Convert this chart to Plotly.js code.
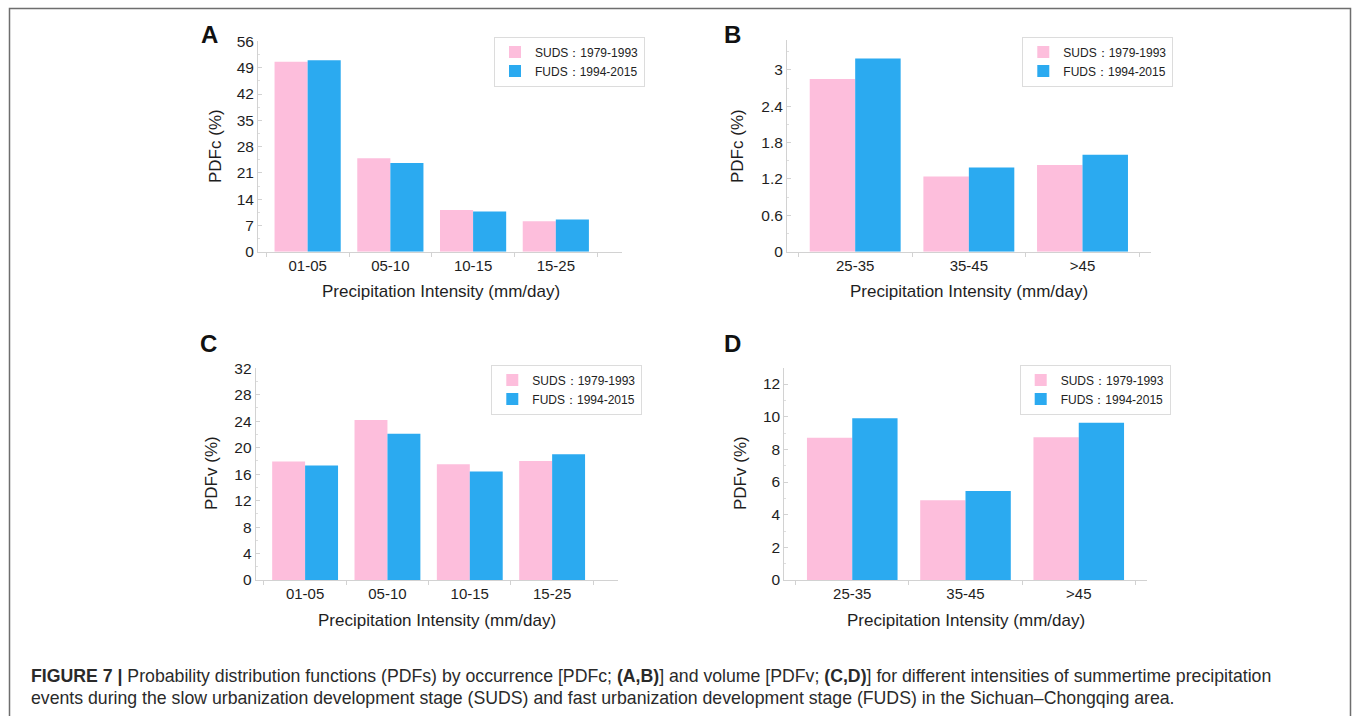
<!DOCTYPE html>
<html>
<head>
<meta charset="utf-8">
<script src="https://cdn.plot.ly/plotly-3.0.1.min.js"></script>
<style>html,body{margin:0;padding:0;background:#fff;}#chart{width:1355px;height:716px;}</style>
</head>
<body>
<div id="chart"></div>
<script>
// ---- data ----
const lowCats = ["01-05", "05-10", "10-15", "15-25"];
const highCats = ["25-35", "35-45", ">45"];
const sudsName = "SUDS：1979-1993";
const fudsName = "FUDS：1994-2015";

const pdfcLowSUDS = [50.6, 24.9, 11.1, 8.1];
const pdfcLowFUDS = [51.0, 23.6, 10.7, 8.6];
const pdfcHighSUDS = [2.85, 1.24, 1.43];
const pdfcHighFUDS = [3.19, 1.39, 1.60];
const pdfvLowSUDS = [17.9, 24.2, 17.5, 18.0];
const pdfvLowFUDS = [17.3, 22.1, 16.4, 19.0];
const pdfvHighSUDS = [8.71, 4.88, 8.74];
const pdfvHighFUDS = [9.90, 5.45, 9.63];

const ticksA = [0, 7, 14, 21, 28, 35, 42, 49, 56];
const ticksB = [0, 0.6, 1.2, 1.8, 2.4, 3.0];
const ticksBText = ["0", "0.6", "1.2", "1.8", "2.4", "3"];
const ticksC = [0, 4, 8, 12, 16, 20, 24, 28, 32];
const ticksD = [0, 2, 4, 6, 8, 10, 12];

const panelLetters = ["A", "B", "C", "D"];
const yTitles = ["PDFc (%)", "PDFc (%)", "PDFv (%)", "PDFv (%)"];
const xTitle = "Precipitation Intensity (mm/day)";
const captionLine1 = "<b>FIGURE 7 |</b> Probability distribution functions (PDFs) by occurrence [PDFc; <b>(A,B)</b>] and volume [PDFv; <b>(C,D)</b>] for different intensities of summertime precipitation";
const captionLine2 = "events during the slow urbanization development stage (SUDS) and fast urbanization development stage (FUDS) in the Sichuan–Chongqing area.";

// ---- styles ----
const PINK = "#FDBEDC";
const BLUE = "#2BAAF0";
const FONT = "Liberation Sans, Arial, Helvetica, sans-serif";
const W = 1355, H = 716;
const px = v => v / W;
const py = v => 1 - v / H;

function bars(x, y, name, color, ax, leg) {
  return {type: "bar", x: x, y: y, name: name, marker: {color: color, line: {width: 0}},
    xaxis: "x" + ax, yaxis: "y" + ax, legend: leg, hoverinfo: "x+y"};
}
const traces = [
  bars(lowCats, pdfcLowSUDS, sudsName, PINK, "", "legend"),
  bars(lowCats, pdfcLowFUDS, fudsName, BLUE, "", "legend"),
  bars(highCats, pdfcHighSUDS, sudsName, PINK, "2", "legend2"),
  bars(highCats, pdfcHighFUDS, fudsName, BLUE, "2", "legend2"),
  bars(lowCats, pdfvLowSUDS, sudsName, PINK, "3", "legend3"),
  bars(lowCats, pdfvLowFUDS, fudsName, BLUE, "3", "legend3"),
  bars(highCats, pdfvHighSUDS, sudsName, PINK, "4", "legend4"),
  bars(highCats, pdfvHighFUDS, fudsName, BLUE, "4", "legend4")
];

function xax(domain, range, anchor) {
  return {domain: domain, range: range, type: "category", anchor: anchor,
    showline: true, linecolor: "#d2d2d2", linewidth: 1, mirror: false,
    ticks: "outside", tickson: "boundaries", ticklen: 4, tickcolor: "#d2d2d2",
    tickfont: {family: FONT, size: 15, color: "#1e1e1e"}, showgrid: false, zeroline: false, fixedrange: true};
}
function yax(domain, range, vals, text, minorStep, anchor) {
  const o = {domain: domain, range: range, anchor: anchor,
    showline: true, linecolor: "#d2d2d2", linewidth: 1,
    ticks: "inside", ticklen: 4, tickcolor: "#d2d2d2",
    tickmode: "array", tickvals: vals,
    minor: {ticks: "inside", ticklen: 2, tickcolor: "#dedede", dtick: minorStep, showgrid: false},
    tickfont: {family: FONT, size: 15.5, color: "#1e1e1e"}, showgrid: false, zeroline: false, fixedrange: true};
  if (text) o.ticktext = text;
  return o;
}
function leg(x, y) {
  return {x: x, y: y, xanchor: "left", yanchor: "top", bgcolor: "#ffffff",
    bordercolor: "#dcdcdc", borderwidth: 1, font: {family: FONT, size: 12, color: "#222"},
    tracegroupgap: 0, itemwidth: 30, itemclick: false, itemdoubleclick: false};
}

const annotations = [];
const letterPos = [[209, 35], [732, 35], [208.5, 343.5], [732, 343.5]];
panelLetters.forEach((t, i) => annotations.push({text: "<b>" + t + "</b>", xref: "paper", yref: "paper",
  x: px(letterPos[i][0]), y: py(letterPos[i][1]), xanchor: "center", yanchor: "middle", showarrow: false,
  font: {family: FONT, size: 24, color: "#111"}}));
const yTitlePos = [[215, 146], [737, 146], [211, 473], [740, 473]];
yTitles.forEach((t, i) => annotations.push({text: t, xref: "paper", yref: "paper", textangle: -90,
  x: px(yTitlePos[i][0]), y: py(yTitlePos[i][1]), xanchor: "center", yanchor: "middle", showarrow: false,
  font: {family: FONT, size: 17, color: "#1e1e1e"}}));
const xTitlePos = [[440.5, 291.7], [969, 291.7], [437, 620], [966, 620]];
xTitlePos.forEach(p => annotations.push({text: xTitle, xref: "paper", yref: "paper",
  x: px(p[0]), y: py(p[1]), xanchor: "center", yanchor: "middle", showarrow: false,
  font: {family: FONT, size: 17, color: "#1e1e1e"}}));
[[captionLine1, 676], [captionLine2, 697.5]].forEach(c => annotations.push({text: c[0], xref: "paper", yref: "paper",
  x: px(29), y: py(c[1]), xanchor: "left", yanchor: "middle", align: "left", showarrow: false,
  font: {family: FONT, size: 17.7, color: "#2a2a2a"}}));

const layout = {
  width: W, height: H, margin: {l: 0, r: 0, t: 0, b: 0}, paper_bgcolor: "#fff", plot_bgcolor: "#fff",
  barmode: "group", bargap: 0.2, bargroupgap: 0, showlegend: true,
  font: {family: FONT, color: "#1e1e1e"},
  xaxis: xax([px(258), px(622)], [-0.6, 3.8], "y"),
  yaxis: yax([py(251.7), py(40.7)], [0, 56.2], ticksA, null, 3.5, "x"),
  xaxis2: xax([px(787), px(1150.7)], [-0.6, 2.6], "y2"),
  yaxis2: yax([py(251.7), py(39.6)], [0, 3.5], ticksB, ticksBText, 0.3, "x2"),
  xaxis3: xax([px(255.7), px(618)], [-0.6, 3.8], "y3"),
  yaxis3: yax([py(580), py(368.3)], [0, 32], ticksC, null, 2, "x3"),
  xaxis4: xax([px(784.3), px(1146.7)], [-0.6, 2.6], "y4"),
  yaxis4: yax([py(580), py(367.7)], [0, 13], ticksD, null, 1, "x4"),
  legend: leg(px(494), py(36.5)),
  legend2: leg(px(1022.3), py(36.5)),
  legend3: leg(px(491.3), py(364.5)),
  legend4: leg(px(1019.7), py(364.5)),
  annotations: annotations,
  shapes: [{type: "path", xref: "paper", yref: "paper",
    path: "M " + px(9.5) + " 0 L " + px(9.5) + " " + py(8.5) + " L " + px(1350.5) + " " + py(8.5) + " L " + px(1350.5) + " 0",
    line: {color: "#6e6e6e", width: 1.5}}]
};

Plotly.newPlot("chart", traces, layout, {displayModeBar: false, staticPlot: true});
</script>
</body>
</html>
